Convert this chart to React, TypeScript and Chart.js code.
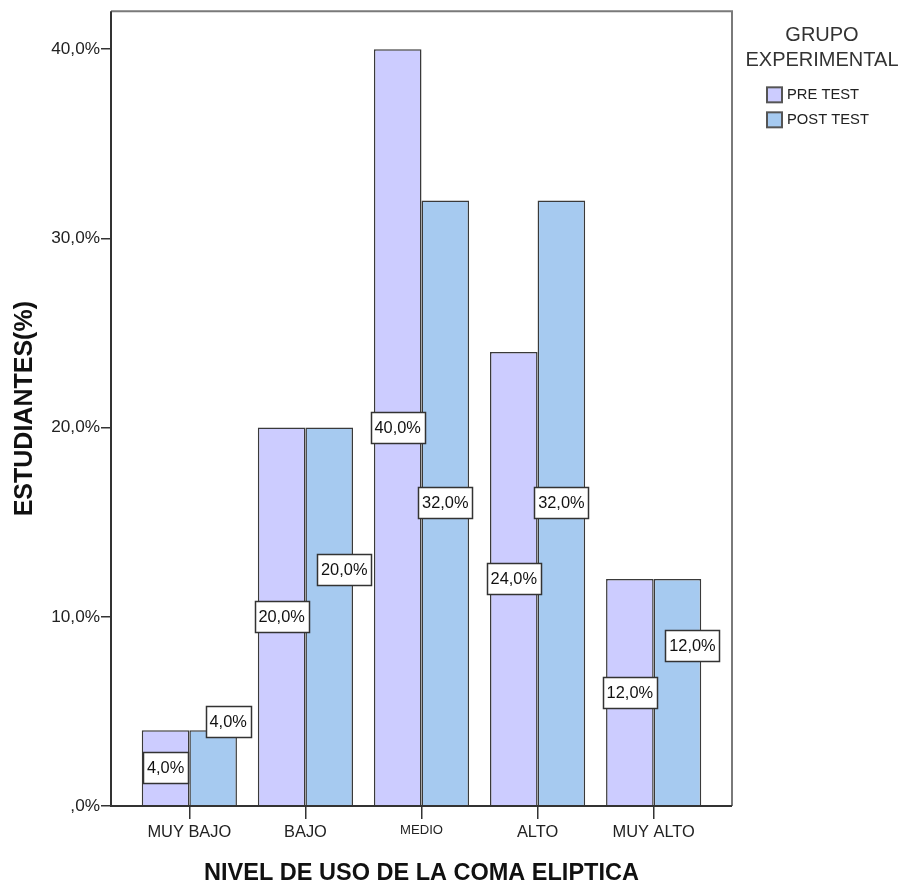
import React, { useEffect, useRef } from 'react';
import { Chart, registerables } from 'chart.js';

Chart.register(...registerables);

const categories = ['MUY BAJO', 'BAJO', 'MEDIO', 'ALTO', 'MUY ALTO'];
const seriesNames = ['PRE TEST', 'POST TEST'];
const preTest = [4, 20, 40, 24, 12];
const postTest = [4, 20, 32, 32, 12];
const yTickValues = [0, 10, 20, 30, 40];
const legendTitle = ['GRUPO', 'EXPERIMENTAL'];
const xTitle = 'NIVEL DE USO DE LA COMA ELIPTICA';
const yTitle = 'ESTUDIANTES(%)';

const seriesColors = ['#CCCCFF', '#A6CAF0'];

function hasFont(name: string): boolean {
  const c = document.createElement('canvas').getContext('2d');
  if (!c) return false;
  const probe = 'MUY BAJO 40,0% abcdefgh';
  c.font = '40px monospace';
  const a = c.measureText(probe).width;
  c.font = `40px "${name}", monospace`;
  const b = c.measureText(probe).width;
  return Math.abs(a - b) > 0.5;
}

const fmt = (v: number) => (v === 0 ? ',0%' : v.toFixed(1).replace('.', ',') + '%');

export default function App() {
  const ref = useRef<HTMLCanvasElement | null>(null);

  useEffect(() => {
    if (!ref.current) return;
    const narrowOk = hasFont('Liberation Sans Narrow');
    const NARROW = narrowOk ? '"Liberation Sans Narrow", "Arial Narrow", sans-serif' : '"Liberation Sans", Arial, sans-serif';
    const k = narrowOk ? 1 : 0.82;
    const WIDE = '"Liberation Sans", Arial, sans-serif';
    const TEXT = '#222222';

    const frame = {
      id: 'frame',
      afterDatasetsDraw(chart: any) {
        const { ctx, chartArea: a } = chart;
        ctx.save();
        ctx.lineWidth = 2;
        ctx.strokeStyle = '#7a7a7a';
        ctx.beginPath();
        ctx.moveTo(a.left, a.top);
        ctx.lineTo(a.right, a.top);
        ctx.lineTo(a.right, a.bottom);
        ctx.stroke();
        ctx.strokeStyle = '#333333';
        ctx.beginPath();
        ctx.moveTo(a.left, a.top);
        ctx.lineTo(a.left, a.bottom);
        ctx.lineTo(a.right, a.bottom);
        ctx.stroke();
        ctx.restore();
      },
    };

    const labels = {
      id: 'barLabels',
      afterDatasetsDraw(chart: any) {
        const ctx = chart.ctx;
        const size = 20 * k;
        const boxH = 31;
        ctx.save();
        ctx.font = `${size}px ${NARROW}`;
        ctx.textAlign = 'center';
        ctx.textBaseline = 'middle';
        categories.forEach((_, idx) => {
          const items = chart.data.datasets.map((ds: any, di: number) => {
            const el = chart.getDatasetMeta(di).data[idx];
            return { x: el.x, y: (el.y + el.base) / 2, text: fmt(ds.data[idx].y) };
          });
          if (items.length === 2 && Math.abs(items[0].y - items[1].y) < boxH) {
            items[1].y -= boxH * 1.5;
            items[1].x += 15;
          }
          items.forEach((it: any) => {
            const w = Math.round(ctx.measureText(it.text).width + 8);
            const x0 = Math.round(it.x - w / 2) + 0.5;
            const y0 = Math.round(it.y - boxH / 2) + 0.5;
            ctx.fillStyle = '#ffffff';
            ctx.fillRect(x0, y0, w, boxH);
            ctx.lineWidth = 1.5;
            ctx.strokeStyle = '#333333';
            ctx.strokeRect(x0, y0, w, boxH);
            ctx.fillStyle = '#111111';
            ctx.fillText(it.text, it.x, it.y + 1);
          });
        });
        ctx.restore();
      },
    };

    const legend = {
      id: 'sideLegend',
      afterDraw(chart: any) {
        const { ctx, chartArea: a } = chart;
        ctx.save();
        ctx.fillStyle = '#333333';
        ctx.textAlign = 'center';
        ctx.textBaseline = 'middle';
        ctx.font = `20px ${WIDE}`;
        legendTitle.forEach((t, i) => ctx.fillText(t, a.right + 90, a.top + 24 + i * 25));
        ctx.font = `${18 * k}px ${NARROW}`;
        ctx.textAlign = 'left';
        chart.data.datasets.forEach((ds: any, i: number) => {
          const bx = a.right + 35;
          const by = a.top + 76 + i * 25;
          ctx.fillStyle = ds.backgroundColor;
          ctx.fillRect(bx, by, 15, 15);
          ctx.lineWidth = 2;
          ctx.strokeStyle = '#555555';
          ctx.strokeRect(bx, by, 15, 15);
          ctx.fillStyle = TEXT;
          ctx.fillText(ds.label, bx + 20, by + 8);
        });
        ctx.restore();
      },
    };

    const chart = new Chart(ref.current, {
      type: 'bar',
      data: {
        datasets: [preTest, postTest].map((vals, si) => ({
          label: seriesNames[si],
          data: vals.map((v, i) => ({ x: i, y: v })),
          backgroundColor: seriesColors[si],
          borderColor: '#3a3a3a',
          borderWidth: 1.5,
          borderSkipped: 'bottom',
          categoryPercentage: 0.82,
          barPercentage: 1,
        })),
      },
      options: {
        animation: false,
        responsive: true,
        maintainAspectRatio: false,
        layout: { padding: { left: 0, top: 11, right: 170, bottom: 0 } },
        plugins: {
          legend: { display: false },
          tooltip: { enabled: false },
        },
        scales: {
          x: {
            type: 'linear',
            offset: false,
            min: -0.675,
            max: 4.675,
            afterBuildTicks: (scale: any) => {
              scale.ticks = categories.map((_, i) => ({ value: i }));
            },
            afterFit: (scale: any) => {
              scale.height = 82;
            },
            border: { display: false },
            grid: {
              offset: false,
              drawOnChartArea: false,
              drawTicks: true,
              tickLength: 13,
              color: '#333333',
              lineWidth: 1.5,
            },
            ticks: {
              autoSkip: false,
              maxRotation: 0,
              padding: 4,
              color: TEXT,
              font: (c: any) => ({
                family: NARROW,
                size: (c.tick && categories[c.tick.value] === 'MEDIO' ? 16 : 20) * k,
              }),
              callback: (v: any) => categories[v] ?? '',
            },
            title: {
              display: true,
              text: xTitle,
              color: '#111111',
              font: { family: WIDE, size: 23.5, weight: 'bold' },
              padding: { top: 0, bottom: 0 },
            },
          },
          y: {
            min: 0,
            max: 42,
            afterBuildTicks: (scale: any) => {
              scale.ticks = yTickValues.map((v) => ({ value: v }));
            },
            afterFit: (scale: any) => {
              scale.width = 111;
            },
            border: { display: false },
            grid: {
              drawOnChartArea: false,
              drawTicks: true,
              tickLength: 10,
              color: '#333333',
              lineWidth: 1.5,
            },
            ticks: {
              padding: 1,
              color: TEXT,
              font: { family: NARROW, size: 21 * k },
              callback: (v: any) => fmt(Number(v)),
            },
            title: {
              display: true,
              text: yTitle,
              color: '#111111',
              font: { family: WIDE, size: 25, weight: 'bold' },
              padding: { top: 10, bottom: 0 },
            },
          },
        },
      },
      plugins: [frame, labels, legend],
    } as any);

    return () => chart.destroy();
  }, []);

  return (
    <div style={{ position: 'absolute', left: 0, top: 0, width: 902, height: 888, background: '#ffffff' }}>
      <canvas ref={ref} />
    </div>
  );
}
